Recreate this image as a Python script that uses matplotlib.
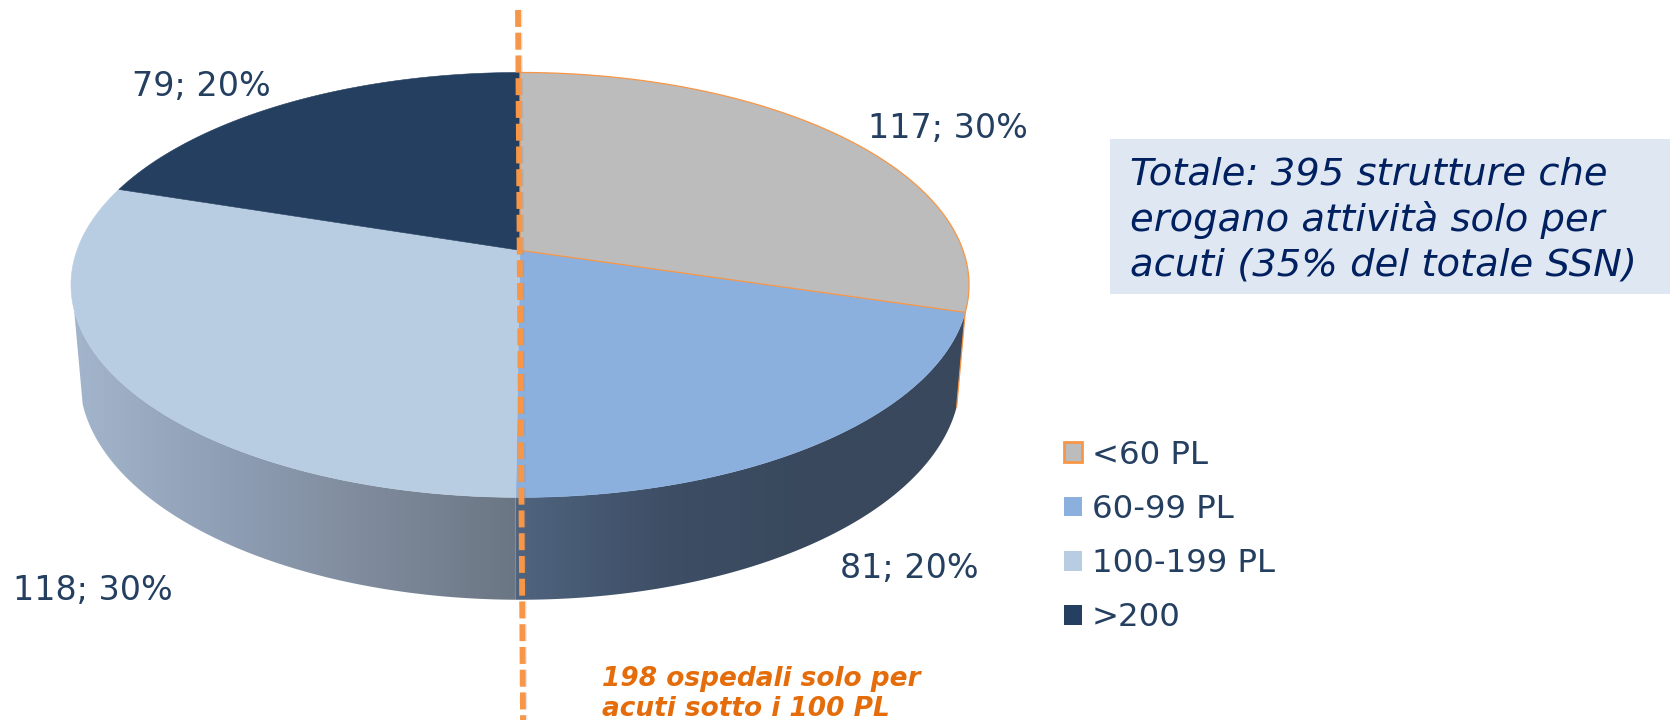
import numpy as np
import matplotlib
matplotlib.use('Agg')
import matplotlib.pyplot as plt
from matplotlib.patches import Polygon, Patch, Rectangle
from matplotlib.colors import LinearSegmentedColormap

# data
categories = ['<60 PL', '60-99 PL', '100-199 PL', '>200']
values = [117, 81, 118, 79]
percents = [30, 20, 30, 20]
colors = ['#bcbcbc', '#8cb0de', '#b8cce2', '#243f60']
label_pos = [(868, 128), (840, 569), (13, 590), (132, 86)]

text_col = '#243f60'
orange = '#f79646'

# pie geometry in pixels, the top and the bottom face have some perspective
cx = 520
top_a, top_b, top_r = -166.0, 250.3, 443.0
bot_a, bot_b, bot_r = -160.0, 342.0, 434.5
persp = 0.163


def face_xy(theta, a, b, r):
    # theta in degrees, clockwise from 12 o'clock
    u = np.sin(np.radians(theta))
    v = np.cos(np.radians(theta))
    d = 1 + persp * v
    return np.column_stack([cx + r * u / d, (a * v + b) / d])


def top_xy(theta):
    return face_xy(theta, top_a, top_b, top_r)


def bot_xy(theta):
    return face_xy(theta, bot_a, bot_b, bot_r)


fig = plt.figure(figsize=(16.7, 7.2), dpi=100)
ax = fig.add_axes([0, 0, 1, 1])
ax.set_xlim(0, 1670)
ax.set_ylim(720, 0)
ax.axis('off')

angles = np.concatenate([[0], np.cumsum(values) / np.sum(values) * 360])

# side of the pie, only the two front slices can be seen
side_cmaps = [
    LinearSegmentedColormap.from_list('r', ['#50647f', '#3d4e65', '#39485c', '#39485c']),
    LinearSegmentedColormap.from_list('l', ['#a3b5cc', '#8f9fb5', '#7f8b9c', '#6b7684']),
]
side_ranges = [(angles[1], angles[2], 1), (angles[2], 254, 0)]
for (t0, t1, k) in side_ranges:
    th = np.linspace(t0, t1, 150)
    poly = np.vstack([top_xy(th), bot_xy(th)[::-1]])
    patch = Polygon(poly, closed=True, fc='none', ec='none')
    ax.add_patch(patch)
    grad = np.linspace(0, 1, 256).reshape(1, -1)
    x0, x1 = poly[:, 0].min(), poly[:, 0].max()
    if k == 1:
        cm = side_cmaps[0]
    else:
        cm = side_cmaps[1]
    im = ax.imshow(grad, cmap=cm, extent=(x0, x1, 620, 250), aspect='auto', zorder=1)
    im.set_clip_path(patch)
ax.set_xlim(0, 1670)
ax.set_ylim(720, 0)

# top face
apex = np.array([[cx, top_b]])
for i in range(len(values)):
    th = np.linspace(angles[i], angles[i + 1], 200)
    pts = np.vstack([apex, top_xy(th)])
    if i == 0:
        ax.add_patch(Polygon(pts, closed=True, fc=colors[i], ec=orange, lw=0.9, zorder=3))
    else:
        ax.add_patch(Polygon(pts, closed=True, fc=colors[i], ec=colors[i], lw=0.4, zorder=2))

# orange edge on the side, right corner
c0 = top_xy(np.array([angles[1]]))[0]
c1 = bot_xy(np.array([angles[1]]))[0]
ax.plot([c0[0], c1[0]], [c0[1], c1[1]], color=orange, lw=0.9, zorder=3)

# dashed divider with a faint shadow
ax.plot([519.5, 524.5], [10, 720], color='#808080', alpha=0.2, lw=4.2, dashes=(2.9, 1.0),
        dash_capstyle='butt', zorder=4)
ax.plot([518, 523], [10, 720], color=orange, lw=4.2, dashes=(2.9, 1.0),
        dash_capstyle='butt', zorder=5)

# data labels
for val, pct, (x, y) in zip(values, percents, label_pos):
    ax.text(x, y, f'{val}; {pct}%', fontsize=24, color=text_col, ha='left', va='center')

# total box
ax.add_patch(Rectangle((1110, 139), 560, 155, fc='#dfe7f2', ec='none', zorder=2))
ax.text(1130, 220, 'Totale: 395 strutture che\nerogano attività solo per\nacuti (35% del totale SSN)',
        fontsize=27.7, style='italic', color='#002060', ha='left', va='center',
        linespacing=1.3, zorder=3)

# note under the pie
ax.text(602, 694, '198 ospedali solo per\nacuti sotto i 100 PL', fontsize=19,
        style='italic', weight='bold', color='#e46c0a', ha='left', va='center',
        linespacing=1.18, zorder=6)

# legend
handles = []
for i, c in enumerate(colors):
    if i == 0:
        handles.append(Patch(fc=c, ec=orange, lw=2))
    else:
        handles.append(Patch(fc=c, ec=c, lw=0))
leg = ax.legend(handles, categories, loc='upper left', bbox_to_anchor=(1064 / 1670, 1 - 439.5 / 720),
                frameon=False, fontsize=23.3, labelcolor=text_col, handlelength=0.56,
                handleheight=0.56, handletextpad=0.3, labelspacing=0.72,
                borderpad=0, borderaxespad=0)

fig.savefig('out.png', dpi=100)
